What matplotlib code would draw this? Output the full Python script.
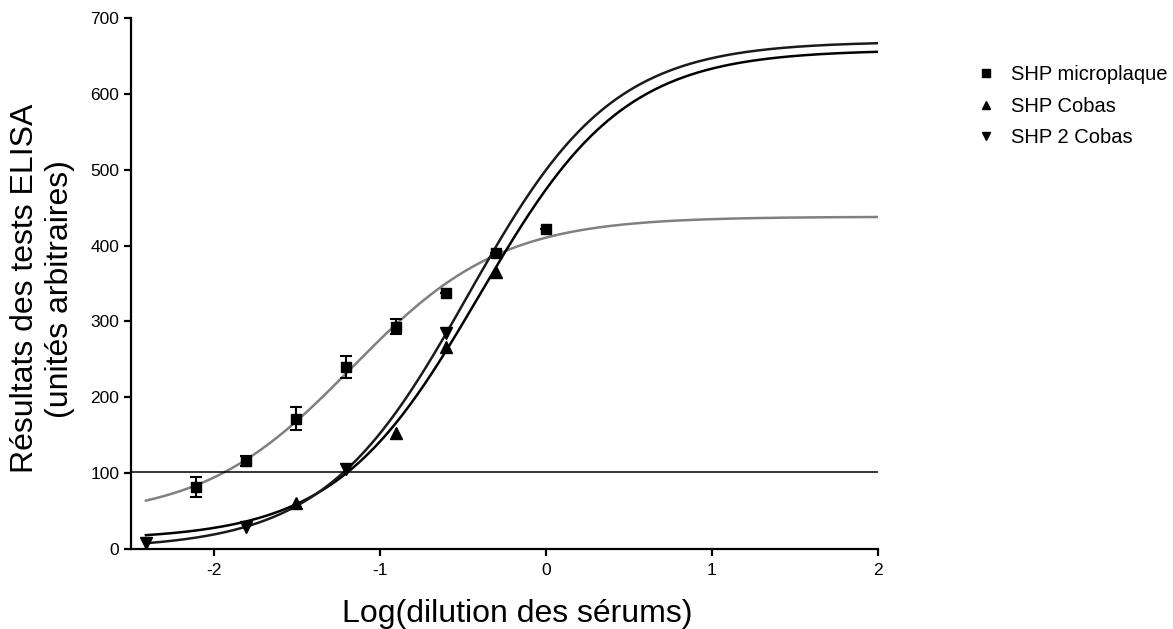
import numpy as np
import matplotlib.pyplot as plt

plt.rcParams['font.family'] = ['Liberation Sans', 'DejaVu Sans']
plt.rcParams['axes.unicode_minus'] = False

# log10 of the serum dilutions
micro_x = [-2.107, -1.806, -1.505, -1.204, -0.903, -0.602, -0.301, 0.0]
micro_y = [82, 116, 172, 240, 293, 338, 390, 422]
micro_err = [13, 7, 15, 15, 10, 0, 0, 0]

cobas_x = [-1.505, -0.903, -0.602, -0.301]
cobas_y = [60, 153, 266, 365]

cobas2_x = [-2.408, -1.806, -1.204, -0.602]
cobas2_y = [8, 29, 105, 285]

# 4-parameter logistic fits (bottom, top, logEC50, hill slope)
micro_fit = (40, 438, -1.17, 0.965)
cobas_fit = (12, 658, -0.40, 1.0)
cobas2_fit = (0, 669, -0.47, 1.0)

threshold = 101


def logistic(x, fit):
    bottom, top, c, h = fit
    return bottom + (top - bottom) / (1 + 10 ** ((c - x) * h))


fig = plt.figure(figsize=(11.73, 6.29), dpi=100)
ax = fig.add_axes([0.1117, 0.1272, 0.6368, 0.8442])

xs = np.linspace(-2.41, 2, 400)
ax.plot(xs, logistic(xs, micro_fit), color='#808080', lw=1.8)
ax.plot(xs, logistic(xs, cobas_fit), color='black', lw=1.8)
ax.plot(xs, logistic(xs, cobas2_fit), color='#1a1a1a', lw=1.8)
ax.axhline(threshold, color='black', lw=1.1)

ax.plot(cobas_x, cobas_y, '^', color='black', ms=8, ls='none', label='SHP Cobas')
ax.plot(cobas2_x, cobas2_y, 'v', color='black', ms=8, ls='none', label='SHP 2 Cobas')
ax.errorbar(micro_x, micro_y, yerr=micro_err, fmt='s', color='black', ms=7,
            capsize=4.5, elinewidth=1.5, capthick=1.5, label='SHP microplaque')

ax.set_xlim(-2.5, 2)
ax.set_ylim(0, 700)
ax.set_xticks([-2, -1, 0, 1, 2])
ax.set_yticks(range(0, 701, 100))
ax.spines['top'].set_visible(False)
ax.spines['right'].set_visible(False)
for s in ['left', 'bottom']:
    ax.spines[s].set_linewidth(1.6)
ax.tick_params(direction='out', length=5, width=1.6, labelsize=12.5)
ax.tick_params(axis='x', pad=5)

ax.set_xlabel('Log(dilution des sérums)', fontsize=23, labelpad=15)
ax.xaxis.label.set_x(0.517)
ax.set_ylabel('Résultats des tests ELISA\n(unités arbitraires)', fontsize=23,
              linespacing=1.2)
ax.yaxis.set_label_coords(-0.075, 0.49)

h, l = ax.get_legend_handles_labels()
order = [2, 0, 1]
handles = []
for i in order:
    hh = h[i]
    if hasattr(hh, 'lines'):
        hh = hh.lines[0]
    handles.append(hh)
ax.legend(handles, [l[i] for i in order], loc='upper left',
          bbox_to_anchor=(0.815, 0.925), bbox_transform=fig.transFigure,
          frameon=False, fontsize=14.5, handletextpad=0.65, labelspacing=0.62,
          markerscale=0.75, handlelength=1.2)

fig.savefig('out.png', dpi=100)
